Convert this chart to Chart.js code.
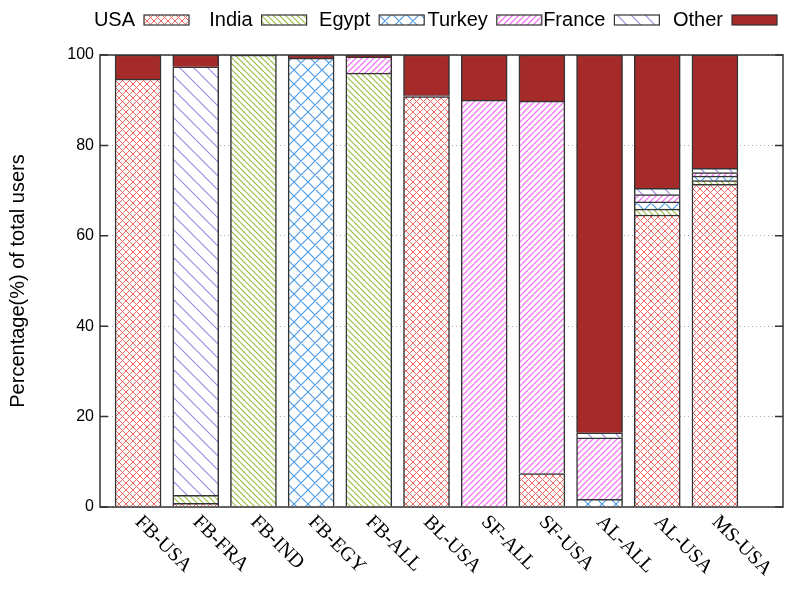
<!DOCTYPE html>
<html>
<head>
<meta charset="utf-8">
<script src="https://cdn.jsdelivr.net/npm/chart.js@4/dist/chart.umd.min.js"></script>
<style>
  html, body { margin: 0; padding: 0; background: #fff; }
  canvas { display: block; }
</style>
</head>
<body>
<canvas id="myChart" width="789" height="591"></canvas>
<script>
// categories (x axis)
const labels = ['FB-USA', 'FB-FRA', 'FB-IND', 'FB-EGY', 'FB-ALL', 'BL-USA', 'SF-ALL', 'SF-USA', 'AL-ALL', 'AL-USA', 'MS-USA'];

// share of users per country, bottom to top of each bar
const usa    = [94.7,  0.8,   0,    0,    0,  90.8,  0,    7.4,  0,   64.6, 71.4];
const india  = [0,     1.8, 100,    0,   96.0, 0,    0,    0,    0,    1.3,  0.8];
const egypt  = [0,     0,     0,   99.3,  0,   0,    0,    0,    1.7,  1.6,  1.0];
const turkey = [0,     0,     0,    0,    3.6, 0.2, 90.0, 82.4, 13.6,  1.6,  0.8];
const france = [0,    94.8,   0,    0,    0,   0,    0,    0,    1.1,  1.4,  0.9];
const other  = [5.3,   2.6,   0,    0.7,  0.4, 9.0, 10.0, 10.2, 83.6, 29.5, 25.1];

const yTicks = [0, 20, 40, 60, 80, 100];

// hatch fills like gnuplot patterns
function makePattern(kind, color, size, width) {
  const c = document.createElement('canvas');
  c.width = size; c.height = size;
  const g = c.getContext('2d');
  g.fillStyle = '#fff';
  g.fillRect(0, 0, size, size);
  g.strokeStyle = color;
  g.lineWidth = width || 1;
  g.beginPath();
  for (let k = -size; k <= size; k += size) {
    if (kind === 'back' || kind === 'cross') {
      g.moveTo(k, 0); g.lineTo(k + size, size);
    }
    if (kind === 'fwd' || kind === 'cross') {
      g.moveTo(k, size); g.lineTo(k + size, 0);
    }
  }
  g.stroke();
  return g.createPattern(c, 'repeat');
}

const fills = {
  usa: makePattern('cross', '#f06a64', 7),
  india: makePattern('back', '#98bb45', 6, 1.2),
  egypt: makePattern('cross', '#4f9de2', 14, 1.2),
  turkey: makePattern('fwd', '#f07af0', 6, 1.4),
  france: makePattern('back', '#9d89dc', 14, 1.2),
  other: '#a52a2a'
};

const series = [
  { name: 'USA', values: usa, fill: fills.usa },
  { name: 'India', values: india, fill: fills.india },
  { name: 'Egypt', values: egypt, fill: fills.egypt },
  { name: 'Turkey', values: turkey, fill: fills.turkey },
  { name: 'France', values: france, fill: fills.france },
  { name: 'Other', values: other, fill: fills.other }
];

// legend on top: text then sample box (gnuplot style)
const legendPlugin = {
  id: 'gpLegend',
  afterDraw(chart) {
    const ctx = chart.ctx;
    ctx.save();
    ctx.font = '20px "Liberation Sans", Arial, sans-serif';
    ctx.textAlign = 'right';
    ctx.textBaseline = 'middle';
    series.forEach((s, i) => {
      const bx = 144 + i * 117.6;
      ctx.fillStyle = '#000';
      ctx.fillText(s.name, bx - 9, 20);
      ctx.fillStyle = s.fill;
      ctx.fillRect(bx, 15, 45, 10);
      ctx.strokeStyle = '#333';
      ctx.lineWidth = 1.2;
      ctx.strokeRect(bx, 15, 45, 10);
    });
    ctx.restore();
  }
};

// frame, inward ticks and rotated category labels
const framePlugin = {
  id: 'frame',
  afterDraw(chart) {
    const ctx = chart.ctx;
    const a = chart.chartArea;
    const ys = chart.scales.y;
    const xs = chart.scales.x;
    ctx.save();
    ctx.strokeStyle = '#333';
    ctx.lineWidth = 1.5;
    ctx.strokeRect(a.left, a.top, a.right - a.left, a.bottom - a.top);
    ctx.beginPath();
    yTicks.forEach(v => {
      const y = ys.getPixelForValue(v);
      ctx.moveTo(a.left, y); ctx.lineTo(a.left + 8, y);
      ctx.moveTo(a.right, y); ctx.lineTo(a.right - 8, y);
    });
    ctx.stroke();

    ctx.fillStyle = '#000';
    ctx.font = '20px "Liberation Serif", "Times New Roman", serif';
    ctx.textAlign = 'left';
    ctx.textBaseline = 'middle';
    labels.forEach((lab, i) => {
      const x = xs.getPixelForValue(i);
      ctx.save();
      ctx.translate(x, a.bottom + 12);
      ctx.rotate(Math.PI / 4);
      ctx.fillText(lab, 0, 0);
      ctx.restore();
    });
    ctx.restore();
  }
};

new Chart(document.getElementById('myChart'), {
  type: 'bar',
  data: {
    datasets: series.map(s => ({
      label: s.name,
      data: s.values.map((v, i) => ({ x: i, y: v > 0 ? v : null })),
      backgroundColor: s.fill,
      borderColor: '#333',
      borderWidth: 1.5,
      barThickness: 46
    }))
  },
  options: {
    responsive: false,
    animation: false,
    layout: { padding: { left: 0, right: 6, top: 55, bottom: 84 } },
    plugins: {
      legend: { display: false },
      tooltip: { enabled: false }
    },
    scales: {
      x: {
        type: 'linear',
        stacked: true,
        offset: false,
        min: -0.66,
        max: 11.18,
        grid: { display: false, offset: false },
        border: { display: false },
        ticks: { display: false },
        afterFit(scale) { scale.height = 0; }
      },
      y: {
        stacked: true,
        min: 0,
        max: 100,
        afterFit(scale) { scale.width = 100; },
        afterBuildTicks(scale) { scale.ticks = yTicks.map(v => ({ value: v })); },
        ticks: {
          color: '#000',
          padding: 6,
          font: { family: '"Liberation Sans", Arial, sans-serif', size: 16 }
        },
        grid: { color: '#aaa', drawTicks: false, lineWidth: 1 },
        border: { display: false, dash: [1, 3] },
        title: {
          display: true,
          text: 'Percentage(%) of total users',
          color: '#000',
          font: { family: '"Liberation Sans", Arial, sans-serif', size: 20 },
          padding: { top: 6, bottom: 4 }
        }
      }
    }
  },
  plugins: [legendPlugin, framePlugin]
});
</script>
</body>
</html>
